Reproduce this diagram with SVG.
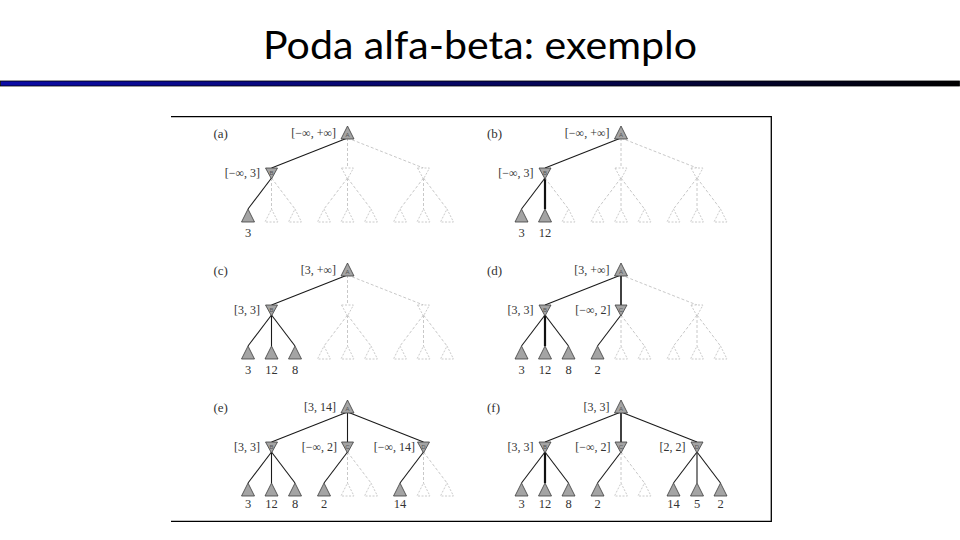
<svg xmlns="http://www.w3.org/2000/svg" xmlns:xlink="http://www.w3.org/1999/xlink" width="960" height="540" viewBox="0 0 960 540">
<style>
.title{font-family:Lato,"Liberation Sans",Arial,sans-serif;font-size:38px;fill:#000}
.v{fill:#a4a4a4;stroke:#3c3c3c;stroke-width:0.8}
.u{fill:#fff;stroke:#bcbcbc;stroke-width:0.8;stroke-dasharray:2,1.5}
.e{stroke:#1a1a1a;stroke-width:1.1;fill:none}
.eb{stroke:#111;stroke-width:2.2;fill:none}
.d{stroke:#c2c2c2;stroke-width:0.9;stroke-dasharray:3,2;fill:none}
.lbl{font-family:"Liberation Serif","Times New Roman",serif;font-size:12px;fill:#333;text-anchor:end}
.num{font-family:"Liberation Serif","Times New Roman",serif;font-size:12.5px;fill:#333;text-anchor:middle}
.pl{font-family:"Liberation Serif","Times New Roman",serif;font-size:13px;fill:#333}
.in{font-family:"Liberation Sans",Arial,sans-serif;font-size:6px;fill:#555;text-anchor:middle}
</style>
<defs>
<linearGradient id="bar" x1="0" y1="0" x2="1" y2="0">
<stop offset="0" stop-color="#0c0ca6"/>
<stop offset="0.55" stop-color="#06065a"/>
<stop offset="1" stop-color="#000"/>
</linearGradient>
<path id="up" d="M0,0 L6.5,13 L-6.5,13 Z"/>
<path id="dn" d="M-6,0 L6,0 L0,11 Z"/>
</defs>
<rect width="960" height="540" fill="#fff"/>
<g id="title"><text class="title" x="263" y="59" textLength="434" lengthAdjust="spacingAndGlyphs">Poda alfa-beta: exemplo</text></g>
<rect id="titlebar" x="0.5" y="81" width="959" height="5" fill="url(#bar)" stroke="#000" stroke-width="0.8"/>
<g id="frame" fill="none" stroke="#000" stroke-width="1.3">
<path d="M171,116.7 H771.3 V521.3 H171"/>
</g>

<g id="connectors">
<g id="conn-a">
<path class="e" d="M347.5,138 L271.5,168"/><path class="d" d="M347.5,138 L347.5,168"/><path class="d" d="M347.5,138 L423.5,168"/>
<path class="e" d="M271.5,178 L248,209"/><path class="d" d="M271.5,178 L271.5,209"/><path class="d" d="M271.5,178 L295,209"/>
<path class="d" d="M347.5,178 L324,209"/><path class="d" d="M347.5,178 L347.5,209"/><path class="d" d="M347.5,178 L371,209"/>
<path class="d" d="M423.5,178 L400,209"/><path class="d" d="M423.5,178 L423.5,209"/><path class="d" d="M423.5,178 L447,209"/>
</g>
<g id="conn-b" transform="translate(273.5,0)">
<path class="e" d="M347.5,138 L271.5,168"/><path class="d" d="M347.5,138 L347.5,168"/><path class="d" d="M347.5,138 L423.5,168"/>
<path class="e" d="M271.5,178 L248,209"/><path class="eb" d="M271.5,178 L271.5,209"/><path class="d" d="M271.5,178 L295,209"/>
<path class="d" d="M347.5,178 L324,209"/><path class="d" d="M347.5,178 L347.5,209"/><path class="d" d="M347.5,178 L371,209"/>
<path class="d" d="M423.5,178 L400,209"/><path class="d" d="M423.5,178 L423.5,209"/><path class="d" d="M423.5,178 L447,209"/>
</g>
<g id="conn-c" transform="translate(0,137)">
<path class="e" d="M347.5,138 L271.5,168"/><path class="d" d="M347.5,138 L347.5,168"/><path class="d" d="M347.5,138 L423.5,168"/>
<path class="e" d="M271.5,178 L248,209"/><path class="e" d="M271.5,178 L271.5,209"/><path class="e" d="M271.5,178 L295,209"/>
<path class="d" d="M347.5,178 L324,209"/><path class="d" d="M347.5,178 L347.5,209"/><path class="d" d="M347.5,178 L371,209"/>
<path class="d" d="M423.5,178 L400,209"/><path class="d" d="M423.5,178 L423.5,209"/><path class="d" d="M423.5,178 L447,209"/>
</g>
<g id="conn-d" transform="translate(273.5,137)">
<path class="e" d="M347.5,138 L271.5,168"/><path class="eb" d="M347.5,138 L347.5,168" style="stroke-width:1.6"/><path class="d" d="M347.5,138 L423.5,168"/>
<path class="e" d="M271.5,178 L248,209"/><path class="eb" d="M271.5,178 L271.5,209"/><path class="e" d="M271.5,178 L295,209"/>
<path class="e" d="M347.5,178 L324,209"/><path class="d" d="M347.5,178 L347.5,209"/><path class="d" d="M347.5,178 L371,209"/>
<path class="d" d="M423.5,178 L400,209"/><path class="d" d="M423.5,178 L423.5,209"/><path class="d" d="M423.5,178 L447,209"/>
</g>
<g id="conn-e" transform="translate(0,274)">
<path class="e" d="M347.5,138 L271.5,168"/><path class="e" d="M347.5,138 L347.5,168"/><path class="e" d="M347.5,138 L423.5,168"/>
<path class="e" d="M271.5,178 L248,209"/><path class="e" d="M271.5,178 L271.5,209"/><path class="e" d="M271.5,178 L295,209"/>
<path class="e" d="M347.5,178 L324,209"/><path class="d" d="M347.5,178 L347.5,209"/><path class="d" d="M347.5,178 L371,209"/>
<path class="e" d="M423.5,178 L400,209"/><path class="d" d="M423.5,178 L423.5,209"/><path class="d" d="M423.5,178 L447,209"/>
</g>
<g id="conn-f" transform="translate(273.5,274)">
<path class="e" d="M347.5,138 L271.5,168"/><path class="eb" d="M347.5,138 L347.5,168" style="stroke-width:1.6"/><path class="e" d="M347.5,138 L423.5,168"/>
<path class="e" d="M271.5,178 L248,209"/><path class="eb" d="M271.5,178 L271.5,209"/><path class="e" d="M271.5,178 L295,209"/>
<path class="e" d="M347.5,178 L324,209"/><path class="d" d="M347.5,178 L347.5,209"/><path class="d" d="M347.5,178 L371,209"/>
<path class="e" d="M423.5,178 L400,209"/><path class="e" d="M423.5,178 L423.5,209"/><path class="e" d="M423.5,178 L447,209"/>
</g>
</g>

<g id="panel-a">
<text class="pl" x="213.5" y="138">(a)</text>
<g id="a-A"><use href="#up" x="347.5" y="126" class="v"/><text class="in" x="347.5" y="137">A</text><text class="lbl" x="336" y="137">[−∞, +∞]</text></g>
<g id="a-B"><use href="#dn" x="271.5" y="168" class="v"/><text class="in" x="271.5" y="175">B</text><text class="lbl" x="260" y="177">[−∞, 3]</text></g>
<g id="a-C"><use href="#dn" x="347.5" y="168" class="u"/></g>
<g id="a-D"><use href="#dn" x="423.5" y="168" class="u"/></g>
<g id="a-b1"><use href="#up" x="248" y="209" class="v"/><text class="num" x="248" y="237">3</text></g>
<g id="a-b2"><use href="#up" x="271.5" y="209" class="u"/></g>
<g id="a-b3"><use href="#up" x="295" y="209" class="u"/></g>
<g id="a-c1"><use href="#up" x="324" y="209" class="u"/></g>
<g id="a-c2"><use href="#up" x="347.5" y="209" class="u"/></g>
<g id="a-c3"><use href="#up" x="371" y="209" class="u"/></g>
<g id="a-d1"><use href="#up" x="400" y="209" class="u"/></g>
<g id="a-d2"><use href="#up" x="423.5" y="209" class="u"/></g>
<g id="a-d3"><use href="#up" x="447" y="209" class="u"/></g>
</g>

<g id="panel-b" transform="translate(273.5,0)">
<text class="pl" x="213.5" y="138">(b)</text>
<g id="b-A"><use href="#up" x="347.5" y="126" class="v"/><text class="in" x="347.5" y="137">A</text><text class="lbl" x="336" y="137">[−∞, +∞]</text></g>
<g id="b-B"><use href="#dn" x="271.5" y="168" class="v"/><text class="in" x="271.5" y="175">B</text><text class="lbl" x="260" y="177">[−∞, 3]</text></g>
<g id="b-C"><use href="#dn" x="347.5" y="168" class="u"/></g>
<g id="b-D"><use href="#dn" x="423.5" y="168" class="u"/></g>
<g id="b-b1"><use href="#up" x="248" y="209" class="v"/><text class="num" x="248" y="237">3</text></g>
<g id="b-b2"><use href="#up" x="271.5" y="209" class="v"/><text class="num" x="271.5" y="237">12</text></g>
<g id="b-b3"><use href="#up" x="295" y="209" class="u"/></g>
<g id="b-c1"><use href="#up" x="324" y="209" class="u"/></g>
<g id="b-c2"><use href="#up" x="347.5" y="209" class="u"/></g>
<g id="b-c3"><use href="#up" x="371" y="209" class="u"/></g>
<g id="b-d1"><use href="#up" x="400" y="209" class="u"/></g>
<g id="b-d2"><use href="#up" x="423.5" y="209" class="u"/></g>
<g id="b-d3"><use href="#up" x="447" y="209" class="u"/></g>
</g>

<g id="panel-c" transform="translate(0,137)">
<text class="pl" x="213.5" y="138">(c)</text>
<g id="c-A"><use href="#up" x="347.5" y="126" class="v"/><text class="in" x="347.5" y="137">A</text><text class="lbl" x="336" y="137">[3, +∞]</text></g>
<g id="c-B"><use href="#dn" x="271.5" y="168" class="v"/><text class="in" x="271.5" y="175">B</text><text class="lbl" x="260" y="177">[3, 3]</text></g>
<g id="c-C"><use href="#dn" x="347.5" y="168" class="u"/></g>
<g id="c-D"><use href="#dn" x="423.5" y="168" class="u"/></g>
<g id="c-b1"><use href="#up" x="248" y="209" class="v"/><text class="num" x="248" y="237">3</text></g>
<g id="c-b2"><use href="#up" x="271.5" y="209" class="v"/><text class="num" x="271.5" y="237">12</text></g>
<g id="c-b3"><use href="#up" x="295" y="209" class="v"/><text class="num" x="295" y="237">8</text></g>
<g id="c-c1"><use href="#up" x="324" y="209" class="u"/></g>
<g id="c-c2"><use href="#up" x="347.5" y="209" class="u"/></g>
<g id="c-c3"><use href="#up" x="371" y="209" class="u"/></g>
<g id="c-d1"><use href="#up" x="400" y="209" class="u"/></g>
<g id="c-d2"><use href="#up" x="423.5" y="209" class="u"/></g>
<g id="c-d3"><use href="#up" x="447" y="209" class="u"/></g>
</g>

<g id="panel-d" transform="translate(273.5,137)">
<text class="pl" x="213.5" y="138">(d)</text>
<g id="d-A"><use href="#up" x="347.5" y="126" class="v"/><text class="in" x="347.5" y="137">A</text><text class="lbl" x="336" y="137">[3, +∞]</text></g>
<g id="d-B"><use href="#dn" x="271.5" y="168" class="v"/><text class="in" x="271.5" y="175">B</text><text class="lbl" x="260" y="177">[3, 3]</text></g>
<g id="d-C"><use href="#dn" x="347.5" y="168" class="v"/><text class="in" x="347.5" y="175">C</text><text class="lbl" x="337" y="177">[−∞, 2]</text></g>
<g id="d-D"><use href="#dn" x="423.5" y="168" class="u"/></g>
<g id="d-b1"><use href="#up" x="248" y="209" class="v"/><text class="num" x="248" y="237">3</text></g>
<g id="d-b2"><use href="#up" x="271.5" y="209" class="v"/><text class="num" x="271.5" y="237">12</text></g>
<g id="d-b3"><use href="#up" x="295" y="209" class="v"/><text class="num" x="295" y="237">8</text></g>
<g id="d-c1"><use href="#up" x="324" y="209" class="v"/><text class="num" x="324" y="237">2</text></g>
<g id="d-c2"><use href="#up" x="347.5" y="209" class="u"/></g>
<g id="d-c3"><use href="#up" x="371" y="209" class="u"/></g>
<g id="d-d1"><use href="#up" x="400" y="209" class="u"/></g>
<g id="d-d2"><use href="#up" x="423.5" y="209" class="u"/></g>
<g id="d-d3"><use href="#up" x="447" y="209" class="u"/></g>
</g>

<g id="panel-e" transform="translate(0,274)">
<text class="pl" x="213.5" y="138">(e)</text>
<g id="e-A"><use href="#up" x="347.5" y="126" class="v"/><text class="in" x="347.5" y="137">A</text><text class="lbl" x="336" y="137">[3, 14]</text></g>
<g id="e-B"><use href="#dn" x="271.5" y="168" class="v"/><text class="in" x="271.5" y="175">B</text><text class="lbl" x="260" y="177">[3, 3]</text></g>
<g id="e-C"><use href="#dn" x="347.5" y="168" class="v"/><text class="in" x="347.5" y="175">C</text><text class="lbl" x="337" y="177">[−∞, 2]</text></g>
<g id="e-D"><use href="#dn" x="423.5" y="168" class="v"/><text class="in" x="423.5" y="175">D</text><text class="lbl" x="415" y="177">[−∞, 14]</text></g>
<g id="e-b1"><use href="#up" x="248" y="209" class="v"/><text class="num" x="248" y="234">3</text></g>
<g id="e-b2"><use href="#up" x="271.5" y="209" class="v"/><text class="num" x="271.5" y="234">12</text></g>
<g id="e-b3"><use href="#up" x="295" y="209" class="v"/><text class="num" x="295" y="234">8</text></g>
<g id="e-c1"><use href="#up" x="324" y="209" class="v"/><text class="num" x="324" y="234">2</text></g>
<g id="e-c2"><use href="#up" x="347.5" y="209" class="u"/></g>
<g id="e-c3"><use href="#up" x="371" y="209" class="u"/></g>
<g id="e-d1"><use href="#up" x="400" y="209" class="v"/><text class="num" x="400" y="234">14</text></g>
<g id="e-d2"><use href="#up" x="423.5" y="209" class="u"/></g>
<g id="e-d3"><use href="#up" x="447" y="209" class="u"/></g>
</g>

<g id="panel-f" transform="translate(273.5,274)">
<text class="pl" x="213.5" y="138">(f)</text>
<g id="f-A"><use href="#up" x="347.5" y="126" class="v"/><text class="in" x="347.5" y="137">A</text><text class="lbl" x="336" y="137">[3, 3]</text></g>
<g id="f-B"><use href="#dn" x="271.5" y="168" class="v"/><text class="in" x="271.5" y="175">B</text><text class="lbl" x="260" y="177">[3, 3]</text></g>
<g id="f-C"><use href="#dn" x="347.5" y="168" class="v"/><text class="in" x="347.5" y="175">C</text><text class="lbl" x="337" y="177">[−∞, 2]</text></g>
<g id="f-D"><use href="#dn" x="423.5" y="168" class="v"/><text class="in" x="423.5" y="175">D</text><text class="lbl" x="412" y="177">[2, 2]</text></g>
<g id="f-b1"><use href="#up" x="248" y="209" class="v"/><text class="num" x="248" y="234">3</text></g>
<g id="f-b2"><use href="#up" x="271.5" y="209" class="v"/><text class="num" x="271.5" y="234">12</text></g>
<g id="f-b3"><use href="#up" x="295" y="209" class="v"/><text class="num" x="295" y="234">8</text></g>
<g id="f-c1"><use href="#up" x="324" y="209" class="v"/><text class="num" x="324" y="234">2</text></g>
<g id="f-c2"><use href="#up" x="347.5" y="209" class="u"/></g>
<g id="f-c3"><use href="#up" x="371" y="209" class="u"/></g>
<g id="f-d1"><use href="#up" x="400" y="209" class="v"/><text class="num" x="400" y="234">14</text></g>
<g id="f-d2"><use href="#up" x="423.5" y="209" class="v"/><text class="num" x="423.5" y="234">5</text></g>
<g id="f-d3"><use href="#up" x="447" y="209" class="v"/><text class="num" x="447" y="234">2</text></g>
</g>
</svg>
